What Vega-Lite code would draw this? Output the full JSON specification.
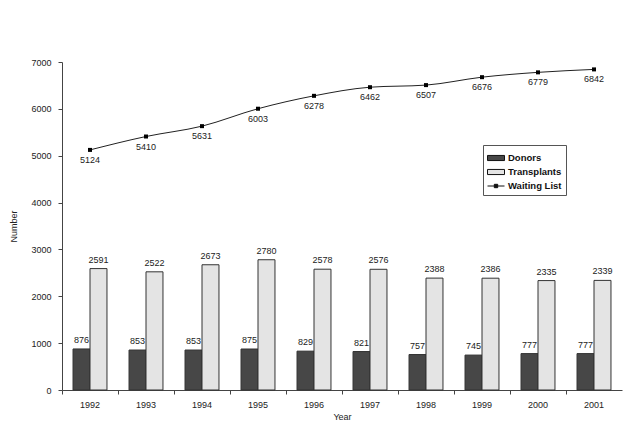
{
  "$schema": "https://vega.github.io/schema/vega-lite/v6.json",
  "autosize": {"type": "none"},
  "width": 560,
  "height": 328,
  "padding": {"left": 62, "top": 62, "right": 4, "bottom": 43},
  "background": "white",
  "config": {
    "view": {"stroke": null},
    "font": "Liberation Sans",
    "axis": {"labelFont": "Liberation Sans", "titleFont": "Liberation Sans", "labelFontSize": 9, "titleFontSize": 9, "titleFontWeight": "normal", "labelColor": "#222", "titleColor": "#222", "domainColor": "#444", "tickColor": "#444", "grid": false}
  },
  "datasets": {
    "bars": [
      {"year": "1992", "series": "Donors", "value": 876},
      {"year": "1992", "series": "Transplants", "value": 2591},
      {"year": "1993", "series": "Donors", "value": 853},
      {"year": "1993", "series": "Transplants", "value": 2522},
      {"year": "1994", "series": "Donors", "value": 853},
      {"year": "1994", "series": "Transplants", "value": 2673},
      {"year": "1995", "series": "Donors", "value": 875},
      {"year": "1995", "series": "Transplants", "value": 2780},
      {"year": "1996", "series": "Donors", "value": 829},
      {"year": "1996", "series": "Transplants", "value": 2578},
      {"year": "1997", "series": "Donors", "value": 821},
      {"year": "1997", "series": "Transplants", "value": 2576},
      {"year": "1998", "series": "Donors", "value": 757},
      {"year": "1998", "series": "Transplants", "value": 2388},
      {"year": "1999", "series": "Donors", "value": 745},
      {"year": "1999", "series": "Transplants", "value": 2386},
      {"year": "2000", "series": "Donors", "value": 777},
      {"year": "2000", "series": "Transplants", "value": 2335},
      {"year": "2001", "series": "Donors", "value": 777},
      {"year": "2001", "series": "Transplants", "value": 2339}
    ],
    "waiting": [
      {"year": "1992", "series": "Waiting List", "value": 5124},
      {"year": "1993", "series": "Waiting List", "value": 5410},
      {"year": "1994", "series": "Waiting List", "value": 5631},
      {"year": "1995", "series": "Waiting List", "value": 6003},
      {"year": "1996", "series": "Waiting List", "value": 6278},
      {"year": "1997", "series": "Waiting List", "value": 6462},
      {"year": "1998", "series": "Waiting List", "value": 6507},
      {"year": "1999", "series": "Waiting List", "value": 6676},
      {"year": "2000", "series": "Waiting List", "value": 6779},
      {"year": "2001", "series": "Waiting List", "value": 6842}
    ]
  },
  "encoding": {
    "x": {
      "field": "year", "type": "nominal",
      "scale": {"paddingInner": 0, "paddingOuter": 0},
      "axis": {"title": "Year", "labelAngle": 0, "bandPosition": 0, "tickSize": 4, "labelPadding": 6, "titlePadding": 3}
    },
    "y": {
      "field": "value", "type": "quantitative",
      "scale": {"domain": [0, 7000], "nice": false},
      "axis": {"title": "Number", "format": "d", "values": [0, 1000, 2000, 3000, 4000, 5000, 6000, 7000], "tickSize": 4, "labelPadding": 7, "titlePadding": 12}
    }
  },
  "layer": [
    {
      "data": {"name": "bars"},
      "mark": {"type": "bar", "stroke": "#333", "strokeWidth": 1},
      "encoding": {
        "xOffset": {"field": "series", "type": "nominal", "scale": {"paddingInner": 0, "paddingOuter": 0.65}},
        "color": {
          "field": "series", "type": "nominal",
          "scale": {"domain": ["Donors", "Transplants", "Waiting List"], "range": ["#474747", "#e4e4e4", "#111111"]},
          "legend": {
            "title": null,
            "orient": "none",
            "legendX": 421,
            "legendY": 83,
            "strokeColor": "#555",
            "fillColor": "white",
            "padding": 4,
            "rowPadding": 0,
            "symbolSize": 196,
            "symbolStrokeColor": "#111",
            "symbolStrokeWidth": 1,
            "labelFont": "Liberation Sans",
            "labelFontSize": 9.5,
            "labelFontWeight": "bold",
            "labelColor": "#111",
            "labelOffset": 3,
            "encode": {
              "symbols": {
                "update": {
                  "shape": {"signal": "datum.value === 'Waiting List' ? 'M-1,0H1M-0.2,-0.2H0.2V0.2H-0.2Z' : 'M-1,-0.3H1V0.3H-1Z'"},
                  "stroke": {"value": "#111"},
                  "size": {"value": 289}
                }
              }
            }
          }
        }
      }
    },
    {
      "data": {"name": "bars"},
      "mark": {"type": "text", "baseline": "bottom", "dy": -4, "fontSize": 9, "color": "#222", "font": "Liberation Sans"},
      "encoding": {
        "xOffset": {"field": "series", "type": "nominal", "scale": {"paddingInner": 0, "paddingOuter": 0.65}},
        "text": {"field": "value", "type": "quantitative", "format": "d"}
      }
    },
    {
      "data": {"name": "waiting"},
      "mark": {"type": "line", "interpolate": "monotone", "color": "#222", "strokeWidth": 1},
      "encoding": {}
    },
    {
      "data": {"name": "waiting"},
      "mark": {"type": "square", "size": 16, "opacity": 1, "filled": true, "color": "#000"},
      "encoding": {}
    },
    {
      "data": {"name": "waiting"},
      "mark": {"type": "text", "baseline": "top", "dy": 6, "fontSize": 9, "color": "#222", "font": "Liberation Sans"},
      "encoding": {
        "text": {"field": "value", "type": "quantitative", "format": "d"}
      }
    }
  ]
}
